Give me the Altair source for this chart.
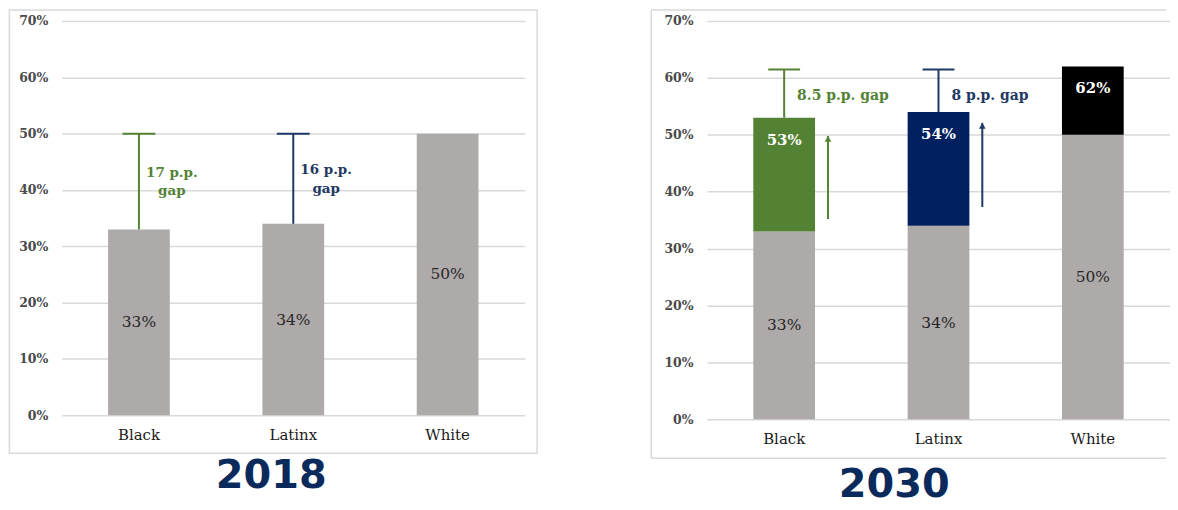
import altair as alt
import pandas as pd

# ---------------- data ----------------
categories = ["Black", "Latinx", "White"]
rate_2018 = [33, 34, 50]
label_2018 = ["33%", "34%", "50%"]

rate_2030_base = [33, 34, 50]
rate_2030_goal = [53, 54, 62]
label_2030_base = ["33%", "34%", "50%"]
label_2030_goal = ["53%", "54%", "62%"]

gap_groups = ["Black", "Latinx"]
gap_2018_from = [33, 34]
gap_2018_to = [50, 50]
gap_2018_text = ["17 p.p.\ngap", "16 p.p.\ngap"]
gap_2018_text_y = [43.1, 43.5]

gap_2030_from = [53, 54]
gap_2030_to = [61.5, 61.5]
gap_2030_text = ["8.5 p.p. gap", "8 p.p. gap"]
gap_2030_text_y = [56.8, 56.8]
arrow_from = [35.2, 37.3]
arrow_to = [49.8, 52.1]

y_ticks = [0, 10, 20, 30, 40, 50, 60, 70]
panel_titles = ["2018", "2030"]

# ---------------- styles ----------------
GRAY = "#AEAAAA"
GREEN = "#548235"
NAVY = "#002060"
NAVY_LINE = "#1F3864"
BLACK = "#000000"
TITLE_NAVY = "#0A2A5C"
GRID = "#D9D9D9"
FRAME = "#D9D9D9"
SERIF = "DejaVu Serif"

bar_colors = [GREEN, NAVY, BLACK]
gap_colors = [GREEN, NAVY_LINE]

x_axis = alt.Axis(title=None, labelAngle=0, domain=False, ticks=False,
                  labelPadding=12, labelFontSize=15, labelFont=SERIF,
                  labelColor="#1A1A1A", grid=False)
y_axis = alt.Axis(title=None, values=y_ticks, labelExpr="datum.value + '%'",
                  domain=False, ticks=False, grid=True, gridColor=GRID,
                  gridWidth=1.5, labelPadding=14, labelFontSize=12.5,
                  labelFontWeight="bold", labelFont=SERIF, labelColor="#4A4A4A")


def X():
    return alt.X("group:N", sort=categories,
                 scale=alt.Scale(domain=categories, paddingInner=0.6, paddingOuter=0.3),
                 axis=x_axis)


def Y(field):
    return alt.Y(field, type="quantitative",
                 scale=alt.Scale(domain=[0, 70], nice=False, zero=True),
                 axis=y_axis)


gap_color = alt.Color("group:N", scale=alt.Scale(domain=gap_groups, range=gap_colors), legend=None)
one = pd.DataFrame({"k": [0]})

# ---------------- 2018 panel ----------------
df18 = pd.DataFrame({"group": categories, "value": rate_2018, "label": label_2018})
gap18 = pd.DataFrame({"group": gap_groups, "lo": gap_2018_from, "hi": gap_2018_to,
                      "txt": gap_2018_text, "ty": gap_2018_text_y})

frame18 = alt.Chart(one).mark_rect(fillOpacity=0, stroke=FRAME, strokeWidth=1.5).encode(
    x=alt.value(-52.6), x2=alt.value(477.4), y=alt.value(-11), y2=alt.value(434))

bars18 = alt.Chart(df18).mark_bar(color=GRAY).encode(x=X(), y=Y("value"))
lab18 = alt.Chart(df18).transform_calculate(mid="datum.value / 2").mark_text(
    font=SERIF, fontSize=15.5, color="#262626", baseline="middle").encode(
    x=X(), y=Y("mid"), text="label:N")
err18 = alt.Chart(gap18).mark_rule(strokeWidth=2).encode(
    x=X(), y=Y("lo"), y2="hi:Q", color=gap_color)
cap18 = alt.Chart(gap18).mark_tick(size=33, thickness=2, orient="horizontal", opacity=1).encode(
    x=X(), y=Y("hi"), color=gap_color)
txt18 = alt.Chart(gap18).mark_text(font=SERIF, fontSize=13.5, fontWeight="bold", dx=33,
                                   lineBreak="\n", lineHeight=19, baseline="middle").encode(
    x=X(), y=Y("ty"), text="txt:N", color=gap_color)
title18 = alt.Chart(pd.DataFrame({"t": [panel_titles[0]]})).mark_text(
    font="DejaVu Sans", fontSize=40, fontWeight="bold", color=TITLE_NAVY,
    baseline="middle", align="center").encode(
    x=alt.value(210.4), y=alt.value(457), text="t:N")

left = alt.layer(frame18, bars18, lab18, err18, cap18, txt18, title18).resolve_scale(
    color="independent").properties(width=465, height=396)

# ---------------- 2030 panel ----------------
df30 = pd.DataFrame({"group": categories, "base": rate_2030_base, "goal": rate_2030_goal,
                     "blabel": label_2030_base, "glabel": label_2030_goal})
gap30 = pd.DataFrame({"group": gap_groups, "lo": gap_2030_from, "hi": gap_2030_to,
                      "txt": gap_2030_text, "ty": gap_2030_text_y,
                      "a0": arrow_from, "a1": arrow_to})

frame30_left = alt.Chart(one).mark_rule(color=FRAME, strokeWidth=1.5).encode(
    x=alt.value(-56), y=alt.value(-11), y2=alt.value(439))
frame30_top = alt.Chart(one).mark_rule(color=FRAME, strokeWidth=1.5).encode(
    x=alt.value(-56), x2=alt.value(461), y=alt.value(-11))
frame30_bot = alt.Chart(one).mark_rule(color=FRAME, strokeWidth=1.5).encode(
    x=alt.value(-56), x2=alt.value(461), y=alt.value(439))

base30 = alt.Chart(df30).mark_bar(color=GRAY).encode(x=X(), y=Y("base"))
top30 = alt.Chart(df30).mark_bar().encode(
    x=X(), y=Y("base"), y2="goal:Q",
    color=alt.Color("group:N", scale=alt.Scale(domain=categories, range=bar_colors), legend=None))
blab30 = alt.Chart(df30).transform_calculate(mid="datum.base / 2").mark_text(
    font=SERIF, fontSize=15.5, color="#262626", baseline="middle").encode(
    x=X(), y=Y("mid"), text="blabel:N")
glab30 = alt.Chart(df30).mark_text(
    font=SERIF, fontSize=15, fontWeight="bold", color="white", baseline="middle", dy=22).encode(
    x=X(), y=Y("goal"), text="glabel:N")
err30 = alt.Chart(gap30).mark_rule(strokeWidth=2).encode(
    x=X(), y=Y("lo"), y2="hi:Q", color=gap_color)
cap30 = alt.Chart(gap30).mark_tick(size=32, thickness=2, orient="horizontal", opacity=1).encode(
    x=X(), y=Y("hi"), color=gap_color)
txt30 = alt.Chart(gap30).mark_text(font=SERIF, fontSize=14, fontWeight="bold", dx=13,
                                   align="left", baseline="middle").encode(
    x=X(), y=Y("ty"), text="txt:N", color=gap_color)
arr30 = alt.Chart(gap30).mark_rule(strokeWidth=2, xOffset=44).encode(
    x=X(), y=Y("a0"), y2="a1:Q", color=gap_color)
head30 = alt.Chart(gap30).mark_point(shape="triangle-up", filled=True, size=45,
                                     xOffset=44, yOffset=3, opacity=1).encode(
    x=X(), y=Y("a1"), color=gap_color)
title30 = alt.Chart(pd.DataFrame({"t": [panel_titles[1]]})).mark_text(
    font="DejaVu Sans", fontSize=40, fontWeight="bold", color=TITLE_NAVY,
    baseline="middle", align="center").encode(
    x=alt.value(188), y=alt.value(466.5), text="t:N")

right = alt.layer(frame30_left, frame30_top, frame30_bot, base30, top30, blab30, glab30,
                  err30, cap30, txt30, arr30, head30, title30).resolve_scale(
    color="independent").properties(width=465, height=400)

chart = alt.hconcat(left, right, spacing=112).properties(padding=0).configure_view(stroke=None)

chart.save("out.html", embed_options={"renderer": "svg", "actions": False})
